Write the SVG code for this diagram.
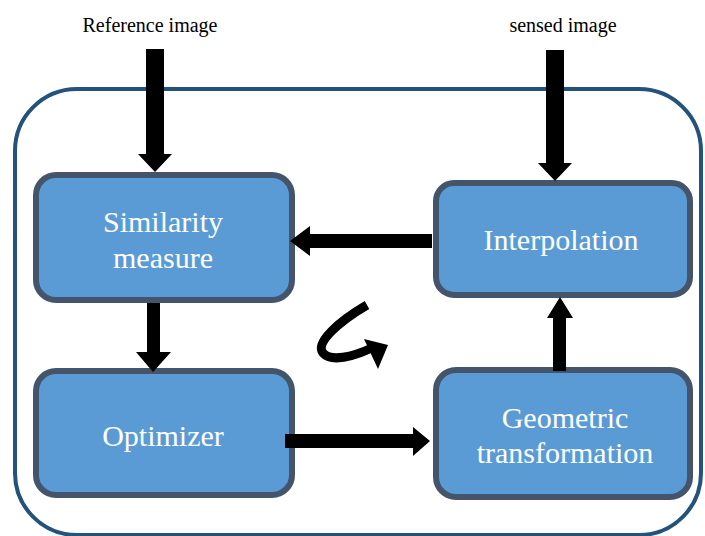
<svg xmlns="http://www.w3.org/2000/svg" width="705" height="536" viewBox="0 0 705 536">
<style>
.node rect{fill:#5b9bd5;stroke:#44546a;stroke-width:6}
.node text{fill:#ffffff;font-family:'Liberation Serif','Times New Roman','DejaVu Serif',serif;font-size:30px;text-anchor:middle}
.lbl{fill:#000;font-family:'Liberation Serif','Times New Roman','DejaVu Serif',serif;font-size:20px;text-anchor:middle}
.arr{fill:#000}
</style>
<rect x="15" y="89" width="686" height="446" rx="62" fill="none" stroke="#23527c" stroke-width="4"/>
<text class="lbl" x="150" y="32">Reference image</text>
<text class="lbl" x="563" y="32">sensed image</text>
<g id="similarity" class="node">
<rect x="36" y="175" width="256" height="125" rx="20"/>
<text x="163" y="232">Similarity</text>
<text x="163" y="268">measure</text>
</g>
<g id="interpolation" class="node">
<rect x="436" y="183" width="254" height="112" rx="18"/>
<text x="561" y="250">Interpolation</text>
</g>
<g id="optimizer" class="node">
<rect x="36" y="371" width="256" height="124" rx="20"/>
<text x="163" y="446">Optimizer</text>
</g>
<g id="geometric" class="node">
<rect x="436" y="370" width="254" height="127" rx="20"/>
<text x="565" y="428">Geometric</text>
<text x="565" y="463">transformation</text>
</g>
<g id="connectors" class="arr">
<polygon points="146,49 164,49 164,154 172,154 155,172 138,154 146,154"/>
<polygon points="546,50 564,50 564,163 572,163 555,181 538,163 546,163"/>
<polygon points="432,234 432,248 310,248 310,256 290,241 310,226 310,234"/>
<polygon points="147,303 160,303 160,352 171,352 153,372 136,352 147,352"/>
<polygon points="285,434 285,448 413,448 413,456 430,441 413,427 413,434"/>
<polygon points="553,371 566,371 566,318 573,318 560,297 547,318 553,318"/>
<path d="M367,305 C338,322 315,343 323,353 C331,362 352,357 372,348" fill="none" stroke="#000" stroke-width="9"/>
<polygon points="364,339 388,345 378,369"/>
</g>
</svg>
